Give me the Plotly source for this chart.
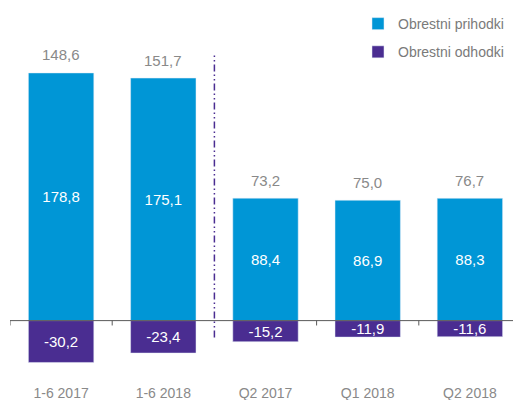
import plotly.graph_objects as go

categories = ["1-6 2017", "1-6 2018", "Q2 2017", "Q1 2018", "Q2 2018"]
prihodki = [178.8, 175.1, 88.4, 86.9, 88.3]
odhodki = [-30.2, -23.4, -15.2, -11.9, -11.6]
totals = [148.6, 151.7, 73.2, 75.0, 76.7]

BLUE = "#0096D6"
PURPLE = "#4A2D91"
GRAY = "#898989"
FONT = "Liberation Sans, Arial, sans-serif"

def fmt(v):
    return f"{v:.1f}".replace(".", ",")

fig = go.Figure()
fig.add_trace(go.Bar(
    x=categories, y=prihodki, name="Obrestni prihodki",
    marker=dict(color=BLUE), legendgroup="a",
    text=[fmt(v) for v in prihodki], textposition="inside",
    insidetextanchor="middle", constraintext="none",
    textfont=dict(color="white", size=15, family=FONT),
))
fig.add_trace(go.Bar(
    x=categories, y=odhodki, name="Obrestni odhodki",
    marker=dict(color=PURPLE), legendgroup="b",
    text=[fmt(v) for v in odhodki], textposition="inside",
    insidetextanchor="middle", constraintext="none",
    textfont=dict(color="white", size=15, family=FONT),
))

for c, p, t in zip(categories, prihodki, totals):
    fig.add_annotation(x=c, y=p, text=fmt(t), showarrow=False,
                       yanchor="middle", yshift=18,
                       font=dict(color=GRAY, size=15, family=FONT))

# zero axis line and boundary ticks
fig.add_shape(type="line", xref="paper", yref="y", x0=0, x1=1, y0=0, y1=0,
              line=dict(color="#595959", width=1))
n = len(categories)
for i in range(n + 1):
    b = i - 0.5
    if b == 1.5:
        continue
    fig.add_shape(type="line", xref="x", yref="y", x0=b, x1=b, y0=0, y1=-3.5,
                  line=dict(color="#595959", width=1))

# separator between half-year and quarterly data
fig.add_shape(type="line", xref="x", yref="y", x0=1.5, x1=1.5, y0=-12.1, y1=192,
              line=dict(color=PURPLE, width=1.5, dash="7px,3px,1.5px,3px,1.5px,3px"))

fig.update_layout(
    width=521, height=400,
    margin=dict(l=2, r=8, t=0, b=40),
    barmode="relative", bargap=0.36,
    plot_bgcolor="white", paper_bgcolor="white",
    font=dict(family=FONT, color=GRAY),
    showlegend=True,
    legend=dict(x=0.681, xanchor="left", y=1.014, yanchor="top",
                font=dict(size=14, color="#7a7a7a", family=FONT),
                tracegroupgap=7, bgcolor="rgba(0,0,0,0)"),
    xaxis=dict(range=[-0.5, 4.5], showgrid=False, showline=False, zeroline=False,
               ticks="", ticklabelstandoff=15,
               tickfont=dict(size=14, color=GRAY, family=FONT)),
    yaxis=dict(range=[-34.2, 222.06], visible=False, showgrid=False, zeroline=False),
)

fig.write_html("out.html")
